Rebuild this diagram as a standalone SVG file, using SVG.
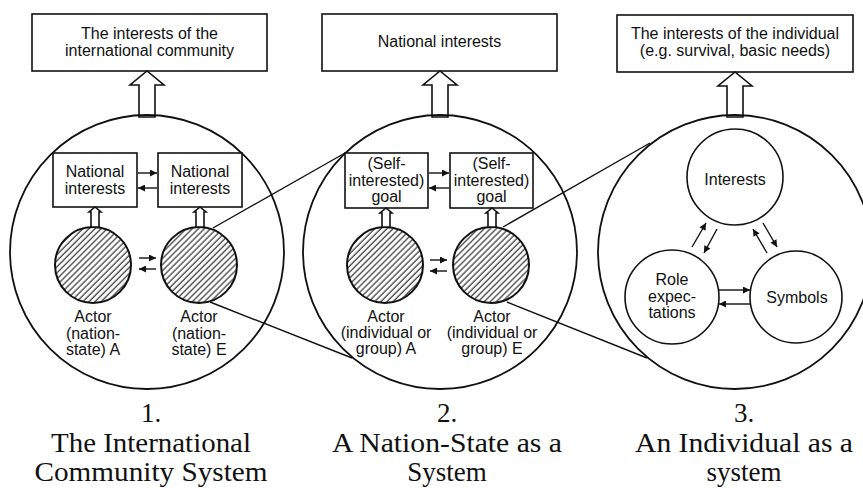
<svg xmlns="http://www.w3.org/2000/svg" width="863" height="488" viewBox="0 0 863 488">
<style>
.bg{fill:#fff}
.big{fill:none;stroke:#111;stroke-width:1.8}
.box{fill:#fff;stroke:#111;stroke-width:1.6}
.t{font-family:"Liberation Sans",Arial,sans-serif;font-size:16px;fill:#111;text-anchor:middle}
.cap{font-family:"Liberation Serif","Times New Roman",serif;font-size:27px;fill:#111;text-anchor:middle}
.hollow{fill:#fff;stroke:#111;stroke-width:1.6;stroke-linejoin:miter}
.hatch{fill:url(#hatch);stroke:#111;stroke-width:2}
.ring{fill:#fff;stroke:#111;stroke-width:1.6}
.ar{fill:none;stroke:#111;stroke-width:1.4;marker-end:url(#head)}
.ln{fill:none;stroke:#111;stroke-width:1.4}
</style>
<defs>
<pattern id="hatch" width="4.3" height="4.3" patternUnits="userSpaceOnUse" patternTransform="rotate(45)">
<rect width="4.3" height="4.3" fill="#fff"/>
<line x1="1" y1="0" x2="1" y2="4.3" stroke="#333" stroke-width="1.2"/>
</pattern>
<marker id="head" viewBox="0 0 10 10" refX="10" refY="5" markerWidth="8" markerHeight="7" markerUnits="userSpaceOnUse" orient="auto">
<path d="M0,0 L10,5 L0,10 Z" fill="#111"/>
</marker>
</defs>
<rect class="bg" x="0" y="0" width="863" height="488"/>

<!-- Top boxes -->
<g id="top1">
<rect class="box" x="32" y="14" width="235" height="57"/>
<text class="t" x="149.5" y="39">The interests of the</text>
<text class="t" x="149.5" y="56">international community</text>
</g>
<g id="top2">
<rect class="box" x="322" y="14" width="235" height="57"/>
<text class="t" x="439.5" y="47">National interests</text>
</g>
<g id="top3">
<rect class="box" x="617" y="15" width="236" height="57"/>
<text class="t" x="735" y="39">The interests of the individual</text>
<text class="t" x="735" y="56">(e.g. survival, basic needs)</text>
</g>

<!-- Large hollow arrows -->
<g id="bigarrows">
<path class="hollow" d="M139,117 L139,85 L130,85 L147,71 L164,85 L155,85 L155,117 Z"/>
<path class="hollow" d="M432,117 L432,85 L423,85 L440,71 L457,85 L448,85 L448,117 Z"/>
<path class="hollow" d="M727,117 L727,86 L718,86 L735,72 L752,86 L743,86 L743,117 Z"/>
</g>

<!-- System circles -->
<g id="system1"><circle class="big" cx="147" cy="252" r="137"/></g>
<g id="system2"><circle class="big" cx="440" cy="252" r="137"/></g>
<g id="system3"><circle class="big" cx="735" cy="252" r="137"/></g>

<!-- System 1 contents -->
<g id="s1-boxA">
<rect class="box" x="53" y="153" width="84" height="54"/>
<text class="t" x="95" y="177">National</text>
<text class="t" x="95" y="194">interests</text>
</g>
<g id="s1-boxE">
<rect class="box" x="158" y="153" width="84" height="54"/>
<text class="t" x="200" y="177">National</text>
<text class="t" x="200" y="194">interests</text>
</g>
<g id="s1-actorA">
<circle class="hatch" cx="93" cy="265" r="38"/>
<text class="t" x="93" y="322">Actor</text>
<text class="t" x="93" y="339">(nation-</text>
<text class="t" x="93" y="355">state) A</text>
</g>
<g id="s1-actorE">
<circle class="hatch" cx="199" cy="265" r="38"/>
<text class="t" x="199" y="322">Actor</text>
<text class="t" x="199" y="339">(nation-</text>
<text class="t" x="199" y="355">state) E</text>
</g>

<!-- System 2 contents -->
<g id="s2-boxA">
<rect class="box" x="345" y="153" width="83" height="55"/>
<text class="t" x="386.5" y="169">(Self-</text>
<text class="t" x="386.5" y="186">interested)</text>
<text class="t" x="386.5" y="202">goal</text>
</g>
<g id="s2-boxE">
<rect class="box" x="450" y="153" width="83" height="55"/>
<text class="t" x="491.5" y="169">(Self-</text>
<text class="t" x="491.5" y="186">interested)</text>
<text class="t" x="491.5" y="202">goal</text>
</g>
<g id="s2-actorA">
<circle class="hatch" cx="385" cy="265" r="38"/>
<text class="t" x="386" y="322">Actor</text>
<text class="t" x="386" y="338">(individual or</text>
<text class="t" x="386" y="354">group) A</text>
</g>
<g id="s2-actorE">
<circle class="hatch" cx="491" cy="265" r="38"/>
<text class="t" x="492" y="322">Actor</text>
<text class="t" x="492" y="338">(individual or</text>
<text class="t" x="492" y="354">group) E</text>
</g>

<!-- System 3 contents -->
<g id="s3-interests">
<circle class="ring" cx="735" cy="177" r="48"/>
<text class="t" x="735" y="185">Interests</text>
</g>
<g id="s3-role">
<circle class="ring" cx="672" cy="297" r="47"/>
<text class="t" x="672" y="285">Role</text>
<text class="t" x="672" y="302">expec-</text>
<text class="t" x="672" y="318">tations</text>
</g>
<g id="s3-symbols">
<circle class="ring" cx="796" cy="297" r="46"/>
<text class="t" x="797" y="303">Symbols</text>
</g>

<!-- Connectors -->
<g id="connectors">
<path class="hollow" d="M91,227 L91,212 L89,212 L95,207 L101,212 L99,212 L99,227 Z"/>
<path class="hollow" d="M196,227 L196,212 L194,212 L200,207 L206,212 L204,212 L204,227 Z"/>
<path class="hollow" d="M382,227 L382,213 L380,213 L386,208 L392,213 L390,213 L390,227 Z"/>
<path class="hollow" d="M488,227 L488,213 L486,213 L492,208 L498,213 L496,213 L496,227 Z"/>
<line class="ar" x1="138" y1="173" x2="157" y2="173"/>
<line class="ar" x1="157" y1="188" x2="138" y2="188"/>
<line class="ar" x1="429" y1="173" x2="449" y2="173"/>
<line class="ar" x1="449" y1="188" x2="429" y2="188"/>
<line class="ar" x1="139" y1="258" x2="156" y2="258"/>
<line class="ar" x1="156" y1="269" x2="139" y2="269"/>
<line class="ar" x1="430" y1="260" x2="447" y2="260"/>
<line class="ar" x1="447" y1="271" x2="430" y2="271"/>
<line class="ar" x1="692" y1="247" x2="706" y2="223"/>
<line class="ar" x1="717" y1="229" x2="704" y2="253"/>
<line class="ar" x1="767" y1="253" x2="753" y2="229"/>
<line class="ar" x1="763" y1="223" x2="777" y2="247"/>
<line class="ar" x1="719" y1="290" x2="750" y2="290"/>
<line class="ar" x1="750" y1="304" x2="719" y2="304"/>
<line class="ln" x1="213" y1="228" x2="345" y2="153"/>
<line class="ln" x1="210" y1="302" x2="352" y2="358"/>
<line class="ln" x1="503" y1="227" x2="650" y2="143"/>
<line class="ln" x1="507" y1="302" x2="647" y2="358"/>
</g>

<!-- Captions -->
<g id="caption1">
<text class="cap" x="151" y="422">1.</text>
<text class="cap" x="151" y="452" textLength="200" lengthAdjust="spacingAndGlyphs">The International</text>
<text class="cap" x="151" y="481" textLength="233" lengthAdjust="spacingAndGlyphs">Community System</text>
</g>
<g id="caption2">
<text class="cap" x="447" y="422">2.</text>
<text class="cap" x="447" y="452" textLength="230" lengthAdjust="spacingAndGlyphs">A Nation-State as a</text>
<text class="cap" x="447" y="481">System</text>
</g>
<g id="caption3">
<text class="cap" x="744" y="422">3.</text>
<text class="cap" x="744" y="452" textLength="218" lengthAdjust="spacingAndGlyphs">An Individual as a</text>
<text class="cap" x="744" y="481">system</text>
</g>
</svg>
